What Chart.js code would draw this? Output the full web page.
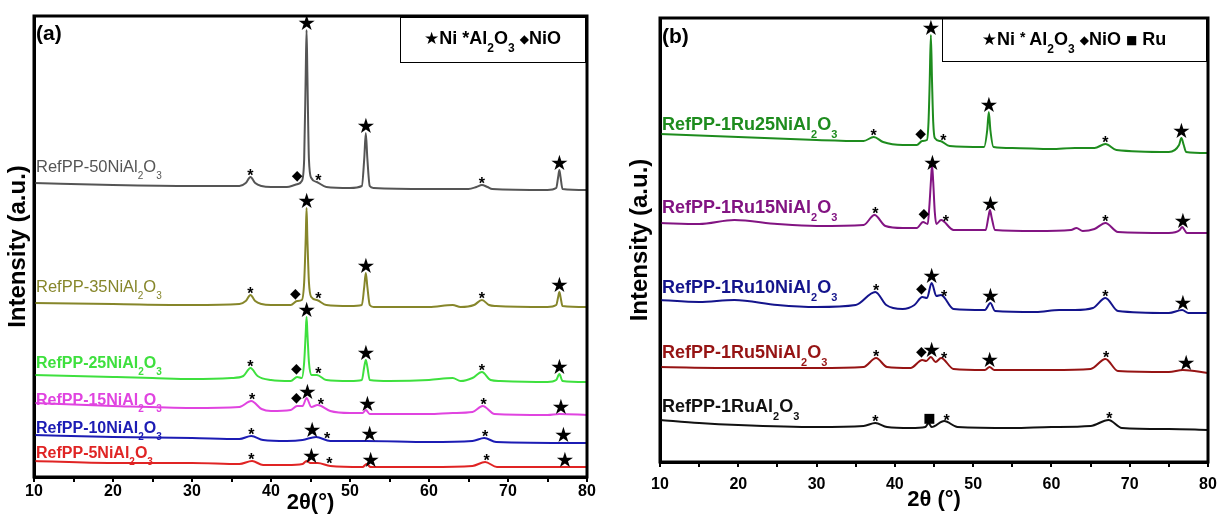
<!DOCTYPE html>
<html>
<head>
<meta charset="utf-8">
<script src="https://cdn.jsdelivr.net/npm/chart.js@4.4.1/dist/chart.umd.min.js"></script>
<style>
  html, body { margin: 0; padding: 0; background: #fff; }
  body { width: 1225px; height: 516px; position: relative; overflow: hidden; }
  canvas { position: absolute; top: 0; }
  #chartA { left: 0; }
  #chartB { left: 610px; }
</style>
</head>
<body>
<canvas id="chartA" width="600" height="516"></canvas>
<canvas id="chartB" width="615" height="516"></canvas>
<script>
// x axis: 2theta in degrees
const tickLabels = [10, 20, 30, 40, 50, 60, 70, 80];

// ---- panel (a): patterns as [2theta, intensity (a.u., stacked)] ----
const namesA = ['RefPP-50NiAl_2O_3', 'RefPP-35NiAl_2O_3', 'RefPP-25NiAl_2O_3',
                'RefPP-15NiAl_2O_3', 'RefPP-10NiAl_2O_3', 'RefPP-5NiAl_2O_3'];

const ni50 = [[10,294],[20,292],[30,291],[36,291],[36.8,294],[37.4,300],[38.0,294],[38.8,291],[40,290],[42,290],
  [43.0,292],[43.4,293],[43.9,296],[44.2,318],[44.4,405],[44.5,447],[44.6,405],[44.8,318],[45.1,299],[45.8,295],
  [47,290],[50,289],[51.5,291],[51.8,318],[52.0,344],[52.2,318],[52.5,291],[53,289],[60,288],[65,288],[66.0,290],
  [66.7,292],[67.4,290],[68,288],[75,287],[76.1,289],[76.35,300],[76.5,307],[76.65,300],[76.9,288],[80,287]];
const ni35 = [[10,174],[20,173],[30,172],[36,173],[36.8,176],[37.4,182],[38.0,176],[38.8,173],[40,172],[42.5,172],
  [43.3,176],[43.9,177],[44.2,195],[44.4,240],[44.5,269],[44.6,240],[44.8,195],[45.1,180],[45.8,177],[47,172],
  [50,171],[51.5,172],[51.8,190],[52.0,204],[52.2,190],[52.5,172],[53,170],[60,170],[63,172],[64,170],[65.7,172],
  [66.7,177],[67.6,172],[68.5,171],[75,170],[76.1,172],[76.35,180],[76.5,185],[76.65,180],[76.9,171],[80,170]];
const ni25 = [[10,102],[20,100],[25,99],[30,98],[35,99],[36.5,101],[37.4,109],[38.3,101],[40,97],[42.5,96],
  [43.3,100],[43.9,99],[44.2,115],[44.4,145],[44.5,160],[44.6,145],[44.8,115],[45.1,102],[45.8,102],[47,97],
  [50,96],[51.5,97],[51.8,110],[52.0,117],[52.2,110],[52.5,97],[55,96],[60,97],[63,99],[64,96],[65.5,99],
  [66.7,105],[67.8,97],[69,96],[75,95],[76.1,97],[76.5,103],[76.9,96],[80,95]];
const ni15 = [[10,74],[20,71],[30,69],[36,70],[37.5,76],[38.8,68],[40,66],[42.5,67],[43.3,71],[44.0,71],
  [44.5,79],[45.1,70],[45.9,72],[47.5,66],[50,64],[51.6,64],[52.0,67],[52.5,63],[60,63],[63,64],[65.5,65],
  [66.8,71],[68.3,63],[75,62],[76.5,63],[80,62]];
const ni10 = [[10,42],[20,40],[30,39],[36,38],[37.5,41],[39,37],[42,36],[44,37],[45.7,40],[47.5,36],[52,36],
  [60,35],[65.5,36],[67,39],[68.5,35],[80,34]];
const ni5 = [[10,16],[20,14],[30,14],[36,13],[37.6,16],[39,12],[42,12],[44,13],[44.5,16],[45.0,14],[45.9,14],
  [47.5,11],[51.6,10],[52.1,13],[52.6,10],[60,10],[65.5,11],[67.1,15],[68.6,10],[80,10]];

// phase marks: [2theta, phase symbol]
const marks50 = [[37.4,'*'],[43.3,'◆'],[44.5,'★'],[46.0,'*'],[52.0,'★'],[66.7,'*'],[76.5,'★']];
const marks35 = [[37.4,'*'],[43.1,'◆'],[44.5,'★'],[46.0,'*'],[52.0,'★'],[66.7,'*'],[76.5,'★']];
const marks25 = [[37.4,'*'],[43.2,'◆'],[44.5,'★'],[46.0,'*'],[52.0,'★'],[66.7,'*'],[76.5,'★']];
const marks15 = [[37.6,'*'],[43.2,'◆'],[44.6,'★'],[46.3,'*'],[52.2,'★'],[66.9,'*'],[76.7,'★']];
const marks10 = [[37.5,'*'],[45.2,'★'],[47.1,'*'],[52.5,'★'],[67.1,'*'],[77.0,'★']];
const marks5 = [[37.5,'*'],[45.1,'★'],[47.4,'*'],[52.6,'★'],[67.3,'*'],[77.2,'★']];

// ---- panel (b) ----
const namesB = ['RefPP-1Ru25NiAl_2O_3', 'RefPP-1Ru15NiAl_2O_3', 'RefPP-1Ru10NiAl_2O_3',
                'RefPP-1Ru5NiAl_2O_3', 'RefPP-1RuAl_2O_3'];

const ru25 = [[10,328],[20,325],[30,322],[36,321],[37.3,325],[38.5,320],[41,317],[42.8,317],[43.5,321],[44.1,322],
  [44.3,340],[44.45,380],[44.6,427],[44.75,380],[44.9,340],[45.1,324],[45.8,321],[47,316],[51.4,315],[51.8,332],
  [52.0,350],[52.2,332],[52.6,315],[55,314],[60,313],[63,314],[65.5,314],[66.9,318],[68.3,312],[75,310],
  [76.3,317],[76.6,324],[76.9,317],[77.2,310],[80,309]];
const ru15 = [[10,239],[15,238],[19.5,242],[25,238],[30,236],[36,237],[37.4,247],[38.8,236],[41,234],[42.8,234],
  [43.6,240],[44.2,238],[44.4,255],[44.6,280],[44.75,297],[44.9,280],[45.1,250],[45.3,238],[45.9,242],[47.5,232],
  [51.6,232],[51.95,245],[52.15,252],[52.35,245],[52.8,232],[58,231],[62.5,232],[63.2,234],[64,231],[65.5,233],
  [66.9,239],[68.5,230],[75,229],[76.4,232],[76.7,235],[77.0,232],[77.3,229],[80,229]];
const ru10 = [[10,162],[15,160],[19.5,162],[25,157],[30,155],[35,157],[37.5,170],[38.9,157],[41,153],[42.5,157],
  [43.5,165],[44.1,164],[44.7,179],[45.3,166],[45.9,167],[47.5,153],[51.5,152],[52.2,159],[52.8,151],[58,150],
  [61,152],[63,152],[65.3,154],[66.9,164],[68.5,151],[75,149],[76.7,152],[77.5,149],[80,149]];
const ru5 = [[10,95],[20,94],[30,94],[36,95],[37.6,104],[39,95],[42,94],[43.5,102],[44.0,101],[44.6,105],
  [45.2,100],[45.9,104],[47.5,93],[51.5,92],[52.1,95],[52.7,92],[60,92],[65,93],[66.9,103],[68.5,91],[75,90],
  [76.8,92],[80,89]];
const ru0 = [[10,42],[15,39],[20,37],[30,35],[36,36],[37.5,39],[39,35],[42,34],[43.9,35],[44.3,39],[44.7,35],
  [46.3,41],[48,35],[55,34],[60,35],[65,36],[67.3,42],[69,34],[75,33],[80,32]];

const marksR25 = [[37.3,'*'],[43.3,'◆'],[44.6,'★'],[46.2,'*'],[52.0,'★'],[66.9,'*'],[76.6,'★']];
const marksR15 = [[37.5,'*'],[43.7,'◆'],[44.8,'★'],[46.5,'*'],[52.2,'★'],[66.9,'*'],[76.8,'★']];
const marksR10 = [[37.6,'*'],[43.4,'◆'],[44.7,'★'],[46.3,'*'],[52.2,'★'],[66.9,'*'],[76.8,'★']];
const marksR5 = [[37.6,'*'],[43.4,'◆'],[44.7,'★'],[46.3,'*'],[52.1,'★'],[67.0,'*'],[77.2,'★']];
const marksR0 = [[37.5,'*'],[44.4,'■'],[46.6,'*'],[67.4,'*']];

// ---- styling ----
const SANS = '"Liberation Sans", Arial, sans-serif';
const SYM = '"DejaVu Sans", sans-serif';

const markStyle = {
  '★': { font: '21px ' + SYM, lift: 8 },
  '*': { font: 'bold 16px ' + SANS, lift: 5 },
  '◆': { font: '14px ' + SYM, lift: 8 },
  '■': { font: '13px ' + SYM, lift: 6 }
};

const styleA = {
  colors: ['#555555', '#86862a', '#3ee03e', '#e044e0', '#1c1cb4', '#e02424'],
  labelLift: [11, 11, 7, -2, 2, 3],
  labelWeight: ['normal', 'normal', 'bold', 'bold', 'bold', 'bold'],
  labelSize: [16.5, 16.5, 16, 16, 16, 16],
  padding: { left: 0, top: 16, right: 13, bottom: 0 },
  yWidth: 34, xHeight: 39, yMax: 461,
  xTitle: '2θ(°)', xTitlePad: 0, tickPad: 0, yTitlePad: 4,
  tag: '(a)', tagY: 40,
  legendBox: [400, 17, 585, 62], legendBase: 44,
  legend: [['★', '17px ' + SYM, 0], ['Ni ', 'bold 18px ' + SANS, 0], ['*', 'bold 18px ' + SANS, 0],
           ['Al', 'bold 18px ' + SANS, 0], ['2', 'bold 12px ' + SANS, 8], ['O', 'bold 18px ' + SANS, 0],
           ['3', 'bold 12px ' + SANS, 8], [' ', 'bold 18px ' + SANS, 0], ['◆', '12px ' + SYM, -1],
           ['NiO', 'bold 18px ' + SANS, 0]]
};

const styleB = {
  colors: ['#1e8c1e', '#821482', '#14148c', '#961414', '#111111'],
  labelLift: [4, 10, 7, 9, 8],
  labelWeight: ['bold', 'bold', 'bold', 'bold', 'bold'],
  labelSize: [18, 18, 18, 18, 18],
  padding: { left: 0, top: 18, right: 17, bottom: 0 },
  yWidth: 50, xHeight: 54, yMax: 444,
  xTitle: '2θ (°)', xTitlePad: 3, tickPad: 8, yTitlePad: 16,
  tag: '(b)', tagY: 43,
  legendBox: [332, 18, 596, 61], legendBase: 45,
  legend: [['★', '17px ' + SYM, 0], ['Ni ', 'bold 18px ' + SANS, 0], ['* ', 'bold 14px ' + SANS, -3],
           ['Al', 'bold 18px ' + SANS, 0], ['2', 'bold 12px ' + SANS, 8], ['O', 'bold 18px ' + SANS, 0],
           ['3', 'bold 12px ' + SANS, 8], [' ', 'bold 18px ' + SANS, 0], ['◆', '12px ' + SYM, -1],
           ['NiO ', 'bold 18px ' + SANS, 0], ['■', '12px ' + SYM, -1], [' Ru', 'bold 18px ' + SANS, 0]]
};

// value of a pattern at a given 2theta (used to sit the phase marks on the curve)
function valueAt(pts, x) {
  for (let i = 1; i < pts.length; i++) {
    if (pts[i][0] >= x) {
      const [x0, y0] = pts[i - 1], [x1, y1] = pts[i];
      return y0 + (y1 - y0) * (x - x0) / (x1 - x0);
    }
  }
  return pts[pts.length - 1][1];
}

function drawRich(ctx, segs, x, y, align) {
  let w = 0;
  const widths = segs.map(([t, font]) => { ctx.font = font; const v = ctx.measureText(t).width; w += v; return v; });
  let cx = align === 'center' ? x - w / 2 : x;
  ctx.textAlign = 'left';
  ctx.textBaseline = 'alphabetic';
  segs.forEach(([t, font, dy], i) => {
    ctx.font = font;
    ctx.fillText(t, cx, y + dy);
    cx += widths[i];
  });
}

// "Al_2O_3" -> normal / subscript runs
function chemSegs(name, weight, size) {
  const main = weight + ' ' + size + 'px ' + SANS;
  const sub = weight + ' ' + Math.round(size * 0.62) + 'px ' + SANS;
  return name.split(/_(\d)/).filter(p => p !== '')
    .map((p, i) => i % 2 === 1 ? [p, sub, Math.round(size * 0.42)] : [p, main, 0]);
}

const decor = {
  id: 'decor',
  afterDatasetsDraw(chart, args, opts) {
    const { ctx, chartArea: ca, scales: { x, y } } = chart;
    const st = opts.style;
    ctx.save();
    // phase marks
    opts.series.forEach((pts, i) => {
      opts.marks[i].forEach(([tt, sym]) => {
        const ms = markStyle[sym];
        ctx.font = ms.font;
        ctx.fillStyle = '#000';
        const m = ctx.measureText(sym);
        const cy = y.getPixelForValue(valueAt(pts, tt)) - ms.lift;
        ctx.textAlign = 'center';
        ctx.textBaseline = 'alphabetic';
        ctx.fillText(sym, x.getPixelForValue(tt), cy + (m.actualBoundingBoxAscent - m.actualBoundingBoxDescent) / 2);
      });
    });
    // sample labels
    opts.series.forEach((pts, i) => {
      ctx.fillStyle = st.colors[i];
      const base = y.getPixelForValue(pts[0][1]) - st.labelLift[i];
      drawRich(ctx, chemSegs(opts.names[i], st.labelWeight[i], st.labelSize[i]), ca.left + 2, base, 'left');
    });
    // panel tag
    ctx.fillStyle = '#000';
    ctx.font = 'bold 21px ' + SANS;
    ctx.textAlign = 'left';
    ctx.fillText(st.tag, ca.left + 2, st.tagY);
    // legend box
    const [bx0, by0, bx1, by1] = st.legendBox;
    ctx.lineWidth = 1;
    ctx.strokeStyle = '#000';
    ctx.strokeRect(bx0 + 0.5, by0 + 0.5, bx1 - bx0, by1 - by0);
    drawRich(ctx, st.legend, (bx0 + bx1) / 2, st.legendBase, 'center');
    // frame
    ctx.lineWidth = 3;
    ctx.strokeRect(ca.left, ca.top, ca.right - ca.left, ca.bottom - ca.top);
    ctx.restore();
  }
};

function makePanel(id, names, series, marks, st) {
  return new Chart(document.getElementById(id), {
    type: 'line',
    data: {
      datasets: series.map((pts, i) => ({
        label: names[i],
        data: pts.map(([x, y]) => ({ x, y })),
        borderColor: st.colors[i],
        borderWidth: 2,
        pointRadius: 0,
        fill: false,
        cubicInterpolationMode: 'monotone'
      }))
    },
    options: {
      responsive: false,
      animation: false,
      layout: { padding: st.padding },
      plugins: {
        legend: { display: false },
        tooltip: { enabled: false },
        decor: { style: st, series, marks, names }
      },
      scales: {
        x: {
          type: 'linear',
          min: 10,
          max: 80,
          ticks: {
            stepSize: 5,
            autoSkip: false,
            maxRotation: 0,
            color: '#000',
            padding: st.tickPad,
            font: { family: SANS, size: 16, weight: 'bold' },
            callback: v => tickLabels.includes(v) ? v : ''
          },
          grid: { drawOnChartArea: false, drawTicks: true, tickLength: 5, color: '#000', lineWidth: 2 },
          border: { display: true, color: '#000', width: 3 },
          title: {
            display: true,
            text: st.xTitle,
            color: '#000',
            font: { family: SANS, size: 22, weight: 'bold' },
            padding: { top: 0, bottom: st.xTitlePad }
          },
          afterFit: s => { s.height = st.xHeight; }
        },
        y: {
          min: 0,
          max: st.yMax,
          ticks: { display: false },
          grid: { display: false },
          border: { display: true, color: '#000', width: 3 },
          title: {
            display: true,
            text: 'Intensity (a.u.)',
            color: '#000',
            font: { family: SANS, size: 24, weight: 'bold' },
            padding: { top: st.yTitlePad, bottom: 0 }
          },
          afterFit: s => { s.width = st.yWidth; }
        }
      }
    },
    plugins: [decor]
  });
}

makePanel('chartA', namesA, [ni50, ni35, ni25, ni15, ni10, ni5],
  [marks50, marks35, marks25, marks15, marks10, marks5], styleA);
makePanel('chartB', namesB, [ru25, ru15, ru10, ru5, ru0],
  [marksR25, marksR15, marksR10, marksR5, marksR0], styleB);
</script>
</body>
</html>
